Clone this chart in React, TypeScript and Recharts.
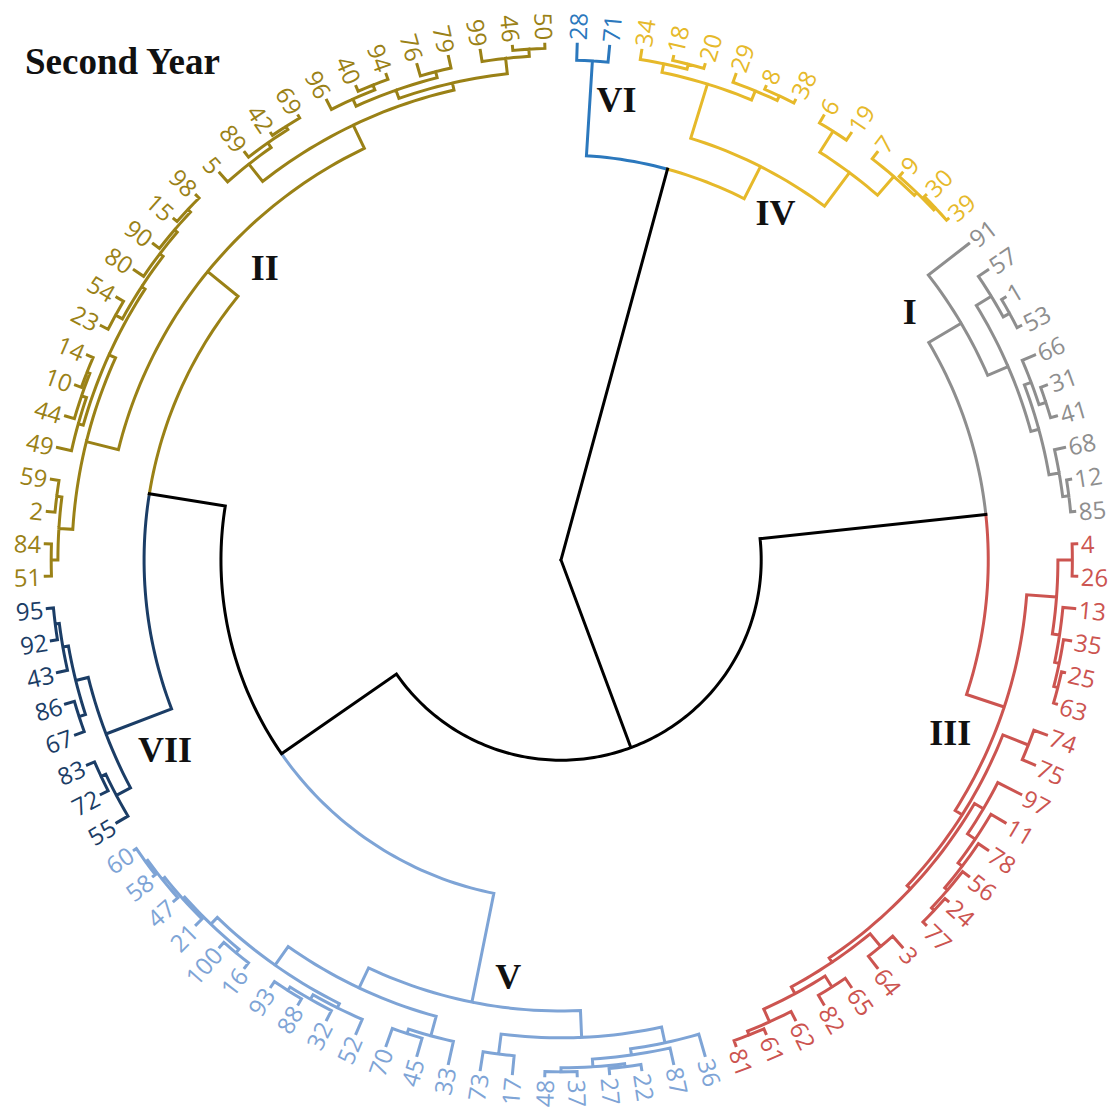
import { ComposedChart, Line, Scatter, XAxis, YAxis } from "recharts";

type Tree = number | Tree[];

// subtrees per cluster: [merge height, left, right]; leaves are genotype numbers
const clusterVI: Tree = [3.1, 28, 71];
const clusterIV: Tree = [
  14.5,
  [3.5, [1.8, 34, [0.8, 18, 20]], [1.6, 29, [0.6, 8, 38]]],
  [6.4, [1.6, 6, 19], [1.6, 7, [0.9, 9, [0.4, 30, 39]]]],
];
const clusterI: Tree = [
  9.9,
  91,
  [5.6, [2.2, 57, [0.8, 1, 53]], [4.0, [2.6, 66, [1.2, 31, 41]], [2.0, 68, [0.8, 12, 85]]]],
];
const clusterIII: Tree = [
  9.5,
  [3.7, [0.9, 4, 26], [2.3, 13, [1.4, 35, [0.6, 25, 63]]]],
  [
    7.9,
    [2.6, 74, 75],
    [
      7.0,
      [5.0, 97, [3.2, 11, [2.2, 78, [1.5, 56, [0.8, 24, 77]]]]],
      [6.0, [2.8, 3, 64], [4.5, [2.0, 65, 82], [1.8, 62, [1.0, 61, 81]]]],
    ],
  ],
];
const clusterV: Tree = [
  12.6,
  [7.4, [4.3, 36, [3.1, 87, [1.6, [1.0, 22, 27], [0.8, 37, 48]]]], [3.5, 17, 73]],
  [
    8.3,
    [4.4, 33, [3.5, 45, 70]],
    [3.9, [3.0, 52, [2.0, 32, [1.2, 88, 93]]], [2.1, [1.2, 16, 100], [1.6, 21, [1.0, 47, [0.5, 58, 60]]]]],
  ],
];
const clusterVII: Tree = [
  5.6,
  [2.5, 55, [1.5, 72, 83]],
  [3.1, [1.8, 67, 86], [2.0, 43, [1.2, 92, 95]]],
];
const clusterII: Tree = [
  11.6,
  [
    5.2,
    [2.5, [1.2, 51, 84], [1.5, 2, 59]],
    [3.8, [2.8, 49, [1.8, 44, [1.2, 10, 14]]], [3.0, [1.5, 23, 54], [2.2, 80, [1.5, 90, [0.8, 15, 98]]]]],
  ],
  [
    6.6,
    [2.3, 5, [1.2, 89, [0.5, 42, 69]]],
    [5.2, [3.5, [2.0, 96, [1.0, 40, 94]], [2.3, 76, 79]], [2.2, 99, [0.8, 46, 50]]],
  ],
];

// upper merges between clusters
const upperTree: Tree = [
  100,
  [21.5, clusterVI, clusterIV],
  [61.2, [17.2, clusterI, clusterIII], [34.1, clusterV, [19.2, clusterVII, clusterII]]],
];

const clusterNames = ["I", "II", "III", "IV", "V", "VI", "VII"];
const clusterTrees = [clusterI, clusterII, clusterIII, clusterIV, clusterV, clusterVI, clusterVII];

const clusterColors: Record<string, string> = {
  I: "#8e8e8e",
  II: "#9a8116",
  III: "#cc5450",
  IV: "#e6b92a",
  V: "#7ea4d6",
  VI: "#2b78bd",
  VII: "#1b3d66",
};

// cluster label placement (radius px, angle deg clockwise from 3 o'clock)
const clusterLabelPos: Record<string, [number, number]> = {
  I: [428, -35.4],
  II: [416, 224.6],
  III: [426, 24],
  IV: [408, -58.3],
  V: [420, 97.2],
  VI: [463, -83.1],
  VII: [439, 154.4],
};

const LEAF_R = 516;
const W = 1110;
const H = 1108;
const CX = 561;
const CY = 560;

const toXY = (r: number, deg: number) => {
  const t = (deg * Math.PI) / 180;
  return { x: r * Math.cos(t), y: -r * Math.sin(t) };
};
const radiusOf = (h: number) => LEAF_R * (1 - h / 100);

type Pt = { x: number; y: number | null };
const paths: Record<string, Pt[]> = {};
const leaves: any[] = [];
let leafCount = 0;
const colorOfTree = new Map<Tree, string>();
clusterTrees.forEach((t, i) => colorOfTree.set(t, clusterColors[clusterNames[i]]));

function addPath(color: string, pts: Pt[]) {
  if (!paths[color]) paths[color] = [];
  paths[color].push(...pts, { x: pts[pts.length - 1].x, y: null });
}

function layout(node: Tree, color: string): { a: number; r: number } {
  if (typeof node === "number") {
    const a = -90 + 3.6 * (leafCount + 0.5);
    leafCount += 1;
    const p = toXY(LEAF_R + 4, a);
    const right = a > -90 && a < 90;
    leaves.push({ ...p, label: String(node), color, rot: right ? a : a - 180, anchor: right ? "start" : "end" });
    return { a, r: LEAF_R };
  }
  const [h, ...kids] = node as Tree[];
  const r = radiusOf(h as unknown as number);
  const res = kids.map((k) => {
    const c = colorOfTree.get(k) ?? color;
    return { c, ...layout(k, c) };
  });
  const a = (res[0].a + res[res.length - 1].a) / 2;
  res.forEach((k) => {
    const pts: Pt[] = [];
    const steps = Math.max(1, Math.ceil(Math.abs(k.a - a)));
    for (let s = 0; s <= steps; s++) pts.push(toXY(r, a + ((k.a - a) * s) / steps));
    pts.push(toXY(k.r, k.a));
    addPath(k.c, pts);
  });
  return { a, r };
}

layout(upperTree, "#000000");

const clusterLabels = clusterNames.map((n) => ({ ...toXY(...clusterLabelPos[n]), label: n }));

const LeafLabel = (p: any) => {
  const d = p.payload;
  return (
    <text
      x={p.cx}
      y={p.cy}
      transform={`rotate(${d.rot} ${p.cx} ${p.cy})`}
      textAnchor={d.anchor}
      dominantBaseline="central"
      fill={d.color}
      fontSize={24}
      fontFamily="Open Sans"
    >
      {d.label}
    </text>
  );
};

const ClusterLabel = (p: any) => (
  <text
    x={p.cx}
    y={p.cy}
    textAnchor="middle"
    dominantBaseline="central"
    fontSize={36}
    fontWeight="bold"
    fontFamily="Liberation Serif"
    fill="#111"
  >
    {p.payload.label}
  </text>
);

export default function App() {
  return (
    <div style={{ position: "absolute", left: 0, top: 0, width: W, height: H, background: "#fff" }}>
      <div
        style={{
          position: "absolute",
          left: 25,
          top: 42,
          fontFamily: "Liberation Serif",
          fontWeight: "bold",
          fontSize: 37,
          lineHeight: "40px",
          color: "#111",
        }}
      >
        Second Year
      </div>
      <ComposedChart width={W} height={H} margin={{ top: 0, right: 0, bottom: 0, left: 0 }}>
        <XAxis type="number" dataKey="x" domain={[-CX, W - CX]} hide allowDataOverflow />
        <YAxis type="number" dataKey="y" domain={[CY - H, CY]} hide allowDataOverflow />
        {Object.entries(paths).map(([color, pts]) => (
          <Line
            key={color}
            data={pts}
            dataKey="y"
            stroke={color}
            strokeWidth={3}
            strokeLinecap="square"
            strokeLinejoin="miter"
            dot={false}
            activeDot={false}
            connectNulls={false}
            type="linear"
            isAnimationActive={false}
          />
        ))}
        <Scatter data={leaves} shape={LeafLabel} isAnimationActive={false} />
        <Scatter data={clusterLabels} shape={ClusterLabel} isAnimationActive={false} />
      </ComposedChart>
    </div>
  );
}
